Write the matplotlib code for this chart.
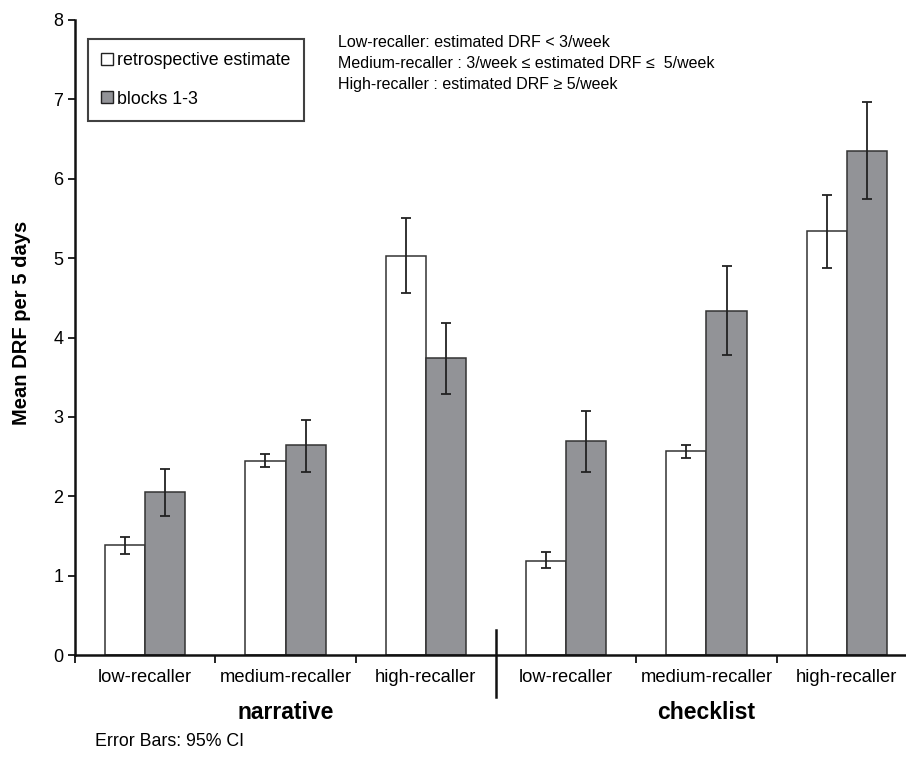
import numpy as np
import matplotlib
matplotlib.use("Agg")
from matplotlib import pyplot as plt
from matplotlib.patches import Patch

plt.rcParams['font.family'] = ['Liberation Sans', 'DejaVu Sans']

categories = ['low-recaller', 'medium-recaller', 'high-recaller',
              'low-recaller', 'medium-recaller', 'high-recaller']
groups = ['narrative', 'checklist']

retro = [1.38, 2.45, 5.03, 1.19, 2.57, 5.34]
retro_lo = [1.27, 2.37, 4.56, 1.09, 2.48, 4.88]
retro_hi = [1.49, 2.53, 5.51, 1.30, 2.65, 5.80]

blocks = [2.05, 2.64, 3.74, 2.69, 4.34, 6.35]
blocks_lo = [1.75, 2.31, 3.29, 2.30, 3.78, 5.74]
blocks_hi = [2.34, 2.96, 4.18, 3.08, 4.90, 6.97]

retro = np.array(retro)
blocks = np.array(blocks)
retro_err = [retro - np.array(retro_lo), np.array(retro_hi) - retro]
blocks_err = [blocks - np.array(blocks_lo), np.array(blocks_hi) - blocks]

fig = plt.figure(figsize=(9.06, 7.62), dpi=100)
ax = fig.add_axes([75 / 906, 107 / 762, 842 / 906, 635 / 762])

x = np.arange(len(categories))
w = 0.2857
grey = '#929397'
edge = '#333333'
errkw = dict(ecolor='#222222', elinewidth=1.3, capsize=3.5, capthick=1.3)

ax.bar(x - w / 2, retro, w, color='white', edgecolor=edge, linewidth=1.1,
       yerr=retro_err, error_kw=errkw)
ax.bar(x + w / 2, blocks, w, color=grey, edgecolor=edge, linewidth=1.1,
       yerr=blocks_err, error_kw=errkw)

ax.set_xlim(-0.5, 5.5)
ax.set_ylim(0, 8)
ax.set_yticks(range(9))
ax.tick_params(axis='y', labelsize=13, length=5, width=1.2, direction='out')

ax.set_xticks([-0.5, 0.5, 1.5, 3.5, 4.5])
ax.set_xticklabels([])
ax.set_xticks(x, minor=True)
ax.set_xticklabels(categories, minor=True)
ax.tick_params(axis='x', which='major', length=6, width=1.2, direction='out')
ax.tick_params(axis='x', which='minor', length=0, labelsize=13.2, pad=10)

for side in ['top', 'right']:
    ax.spines[side].set_visible(False)
for side in ['left', 'bottom']:
    ax.spines[side].set_linewidth(1.8)
    ax.spines[side].set_color('#111111')

# divider between the two groups
ax.plot([2.5, 2.5], [-0.066, 0.039], color='#111111', lw=1.8,
        transform=ax.get_xaxis_transform(), clip_on=False)

ax.text(1, -0.09, groups[0], transform=ax.get_xaxis_transform(),
        ha='center', va='center', fontsize=16.5, fontweight='bold')
ax.text(4, -0.09, groups[1], transform=ax.get_xaxis_transform(),
        ha='center', va='center', fontsize=16.5, fontweight='bold')

ax.set_ylabel('Mean DRF per 5 days', fontsize=14.5, fontweight='bold')
ax.yaxis.set_label_coords(-44 / 842, 0.523)

handles = [Patch(facecolor='white', edgecolor='#222222', linewidth=1),
           Patch(facecolor=grey, edgecolor='#222222', linewidth=1)]
leg = ax.legend(handles, ['retrospective estimate', 'blocks 1-3'],
                loc='upper left', bbox_to_anchor=(13 / 842, 1 - 19 / 635),
                fontsize=12.8, frameon=True, fancybox=False, edgecolor='#111111',
                handlelength=0.65, handleheight=0.65, handletextpad=0.25,
                labelspacing=1.2, borderpad=0.75, borderaxespad=0)
leg.get_frame().set_linewidth(1.5)

notes = ['Low-recaller: estimated DRF < 3/week',
         'Medium-recaller : 3/week \u2264 estimated DRF \u2264  5/week',
         'High-recaller : estimated DRF \u2265 5/week']
fig.text(338 / 906, 1 - 35 / 762, '\n'.join(notes), fontsize=11.5, va='top',
         ha='left', linespacing=1.5)

fig.text(95 / 906, 1 - 742 / 762, 'Error Bars: 95% CI', fontsize=12.8,
         va='center', ha='left')

fig.savefig('out.png', dpi=100)
